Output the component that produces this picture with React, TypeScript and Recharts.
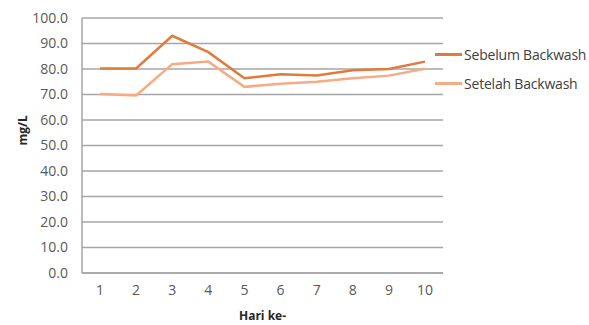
import React from "react";
import { CartesianGrid, Line, LineChart, XAxis, YAxis } from "recharts";

const days = ["1", "2", "3", "4", "5", "6", "7", "8", "9", "10"];
const sebelum = [80.2, 80.2, 93.0, 86.6, 76.4, 77.9, 77.5, 79.5, 80.0, 82.9];
const setelah = [70.2, 69.6, 81.9, 82.9, 73.0, 74.2, 75.0, 76.4, 77.4, 80.1];
const yTicks = [0, 10, 20, 30, 40, 50, 60, 70, 80, 90, 100];

const DARK = "#e07b39";
const LIGHT = "#f7ab84";
const FONT = "'Open Sans', 'Liberation Sans', sans-serif";

const data = days.map((d, i) => ({ day: d, sebelum: sebelum[i], setelah: setelah[i] }));

const legendItems = [
  { label: "Sebelum Backwash", color: DARK },
  { label: "Setelah Backwash", color: LIGHT },
];

// legend sits beside the plot, so keep it out of recharts' layout math
function LegendBox() {
  return (
    <div style={{ position: "absolute", left: 435, top: 45, fontFamily: FONT, fontSize: 14, letterSpacing: -0.2, color: "#404040" }}>
      {legendItems.map((it) => (
        <div key={it.label} style={{ display: "flex", alignItems: "center", height: 18, marginBottom: 11 }}>
          <span style={{ display: "inline-block", width: 27, height: 3, background: it.color, marginRight: 2 }} />
          <span style={{ whiteSpace: "nowrap" }}>{it.label}</span>
        </div>
      ))}
    </div>
  );
}

export default function App() {
  return (
    <div style={{ position: "absolute", left: 0, top: 0, width: 589, height: 325, background: "#fff" }}>
      <LineChart width={589} height={325} data={data} margin={{ top: 18, right: 146, bottom: 22, left: 20 }}>
        <CartesianGrid vertical={false} stroke="#a6a6a6" strokeWidth={1.5} />
        <XAxis
          dataKey="day"
          padding={{ left: 18, right: 18 }}
          axisLine={{ stroke: "#a6a6a6", strokeWidth: 1.5 }}
          tickLine={false}
          tickSize={0}
          tickMargin={12}
          tick={{ fill: "#595959", fontSize: 14, fontFamily: FONT }}
          label={{ value: "Hari ke-", position: "insideBottom", offset: 0, dy: 17, fill: "#262626", fontSize: 12, fontWeight: 700, fontFamily: FONT }}
        />
        <YAxis
          width={62}
          domain={[0, 100]}
          ticks={yTicks}
          interval={0}
          tickFormatter={(v: number) => v.toFixed(1)}
          axisLine={{ stroke: "#a6a6a6", strokeWidth: 1.5 }}
          tickLine={false}
          tickSize={0}
          tickMargin={14}
          tick={{ fill: "#595959", fontSize: 14, fontFamily: FONT }}
          label={{ value: "mg/L", angle: -90, position: "insideLeft", offset: 3, fill: "#262626", fontSize: 12, fontWeight: 700, fontFamily: FONT }}
        />
        <Line dataKey="sebelum" name="Sebelum Backwash" stroke={DARK} strokeWidth={2.5} dot={false} isAnimationActive={false} />
        <Line dataKey="setelah" name="Setelah Backwash" stroke={LIGHT} strokeWidth={2.5} dot={false} isAnimationActive={false} />
      </LineChart>
      <LegendBox />
    </div>
  );
}
